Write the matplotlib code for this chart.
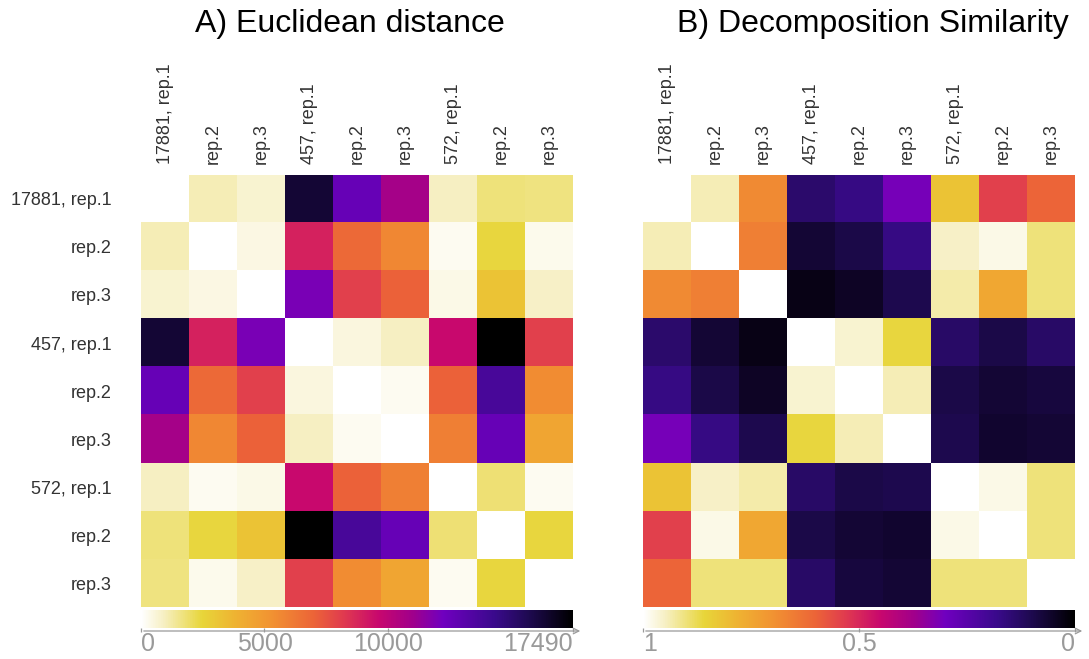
import numpy as np
import matplotlib
matplotlib.use("Agg")
import matplotlib.pyplot as plt
from matplotlib.colors import LinearSegmentedColormap
from matplotlib.patches import FancyArrowPatch

plt.rcParams["font.family"] = ["Liberation Sans", "DejaVu Sans"]

labels = ["17881, rep.1", "rep.2", "rep.3",
          "457, rep.1", "rep.2", "rep.3",
          "572, rep.1", "rep.2", "rep.3"]

# pairwise Euclidean distance between samples
dist = np.array([
    [0,     1050,  700,   16300, 12600, 10800, 900,   1750,  1700],
    [1050,  0,     440,   8900,  6800,  5700,  260,   2450,  300],
    [700,   440,   0,     12000, 8000,  7100,  350,   3150,  850],
    [16300, 8900,  12000, 0,     500,   900,   9600,  17490, 8000],
    [12600, 6800,  8000,  500,   0,     250,   7100,  13800, 5500],
    [10800, 5700,  7100,  900,   250,   0,     6000,  12600, 4400],
    [900,   260,   350,   9600,  7100,  6000,  0,     1800,  250],
    [1750,  2450,  3150,  17490, 13800, 12600, 1800,  0,     2400],
    [1700,  300,   850,   8000,  5500,  4400,  250,   2400,  0],
])
dist_max = 17490
dist_ticks = [0, 5000, 10000, 17490]

# similarity of the decompositions (1 = identical)
sim = np.array([
    [1.00, 0.94, 0.68, 0.14, 0.17, 0.31, 0.82, 0.54, 0.60],
    [0.94, 1.00, 0.66, 0.07, 0.09, 0.17, 0.95, 0.98, 0.90],
    [0.68, 0.66, 1.00, 0.03, 0.05, 0.10, 0.93, 0.75, 0.90],
    [0.14, 0.07, 0.03, 1.00, 0.96, 0.86, 0.13, 0.09, 0.13],
    [0.17, 0.09, 0.05, 0.96, 1.00, 0.94, 0.09, 0.07, 0.08],
    [0.31, 0.17, 0.10, 0.86, 0.94, 1.00, 0.10, 0.06, 0.07],
    [0.82, 0.95, 0.93, 0.13, 0.09, 0.10, 1.00, 0.98, 0.90],
    [0.54, 0.98, 0.75, 0.09, 0.07, 0.06, 0.98, 1.00, 0.90],
    [0.60, 0.90, 0.90, 0.13, 0.08, 0.07, 0.90, 0.90, 1.00],
])
sim_ticks = [1, 0.5, 0]
sim_ticklabels = ["1", "0.5", "0"]

cmap = LinearSegmentedColormap.from_list("heat", [
    (0.00, "#ffffff"), (0.05, "#f7f0c4"), (0.14, "#e8d63a"),
    (0.22, "#efb232"), (0.30, "#f29332"), (0.40, "#ec6438"),
    (0.47, "#e03a50"), (0.55, "#c8086e"), (0.63, "#a0008c"),
    (0.70, "#7000c0"), (0.82, "#3a0a8c"), (0.90, "#1e0a50"),
    (1.00, "#000000")])

W, H = 1089, 659
fig = plt.figure(figsize=(W / 100, H / 100), dpi=100)


def box(x0, y0, x1, y1):
    return [x0 / W, 1 - y1 / H, (x1 - x0) / W, (y1 - y0) / H]


def heat(x0, data, cm, vmin, vmax, title, title_x, ticks, ticklabels, xlim,
         rowlabels):
    ax = fig.add_axes(box(x0, 175, x0 + 432, 607))
    ax.imshow(data, cmap=cm, vmin=vmin, vmax=vmax, aspect="auto",
              interpolation="nearest")
    ax.set_xticks(range(len(labels)))
    ax.xaxis.tick_top()
    ax.set_xticklabels(labels, rotation=90, fontsize=13, color="#333333")
    if rowlabels:
        ax.set_yticks(range(len(labels)))
        ax.set_yticklabels(labels, fontsize=13, color="#333333")
    else:
        ax.set_yticks([])
    ax.tick_params(axis="both", length=0)
    ax.tick_params(axis="x", pad=8)
    ax.tick_params(axis="y", pad=21)
    for s in ax.spines.values():
        s.set_visible(False)
    fig.text(title_x / W, 1 - 24 / H, title, ha="center", va="center",
             fontsize=23, color="black")

    # horizontal colour bar with an arrowed axis line below it
    cax = fig.add_axes(box(x0, 610, x0 + 432, 628))
    grad = np.linspace(vmin, vmax, 512)[None, :]
    cax.imshow(grad, cmap=cm, vmin=vmin, vmax=vmax, aspect="auto",
               extent=(vmin, vmax, 0, 1))
    cax.set_xlim(*xlim)
    cax.set_ylim(0, 1)
    cax.set_yticks([])
    cax.set_xticks(ticks)
    cax.set_xticklabels(ticklabels, fontsize=18, color="#9a9a9a")
    lab = cax.get_xticklabels()
    lab[0].set_ha("left")
    lab[-1].set_ha("right")
    cax.tick_params(axis="x", length=3, width=0.9, color="#9a9a9a",
                    direction="out", pad=0)
    for s in cax.spines.values():
        s.set_visible(False)
    fig.add_artist(FancyArrowPatch(
        (x0 / W, 1 - 631 / H), ((x0 + 442) / W, 1 - 631 / H),
        transform=fig.transFigure, arrowstyle="->", mutation_scale=10,
        color="#9a9a9a", lw=0.9))
    return ax


heat(141, dist, cmap, 0, dist_max, "A) Euclidean distance", 350,
     dist_ticks, [str(t) for t in dist_ticks], (0, dist_max), True)
heat(643, sim, cmap.reversed(), 0, 1, "B) Decomposition Similarity", 873,
     sim_ticks, sim_ticklabels, (1, 0), False)

fig.savefig("out.png", dpi=100)
